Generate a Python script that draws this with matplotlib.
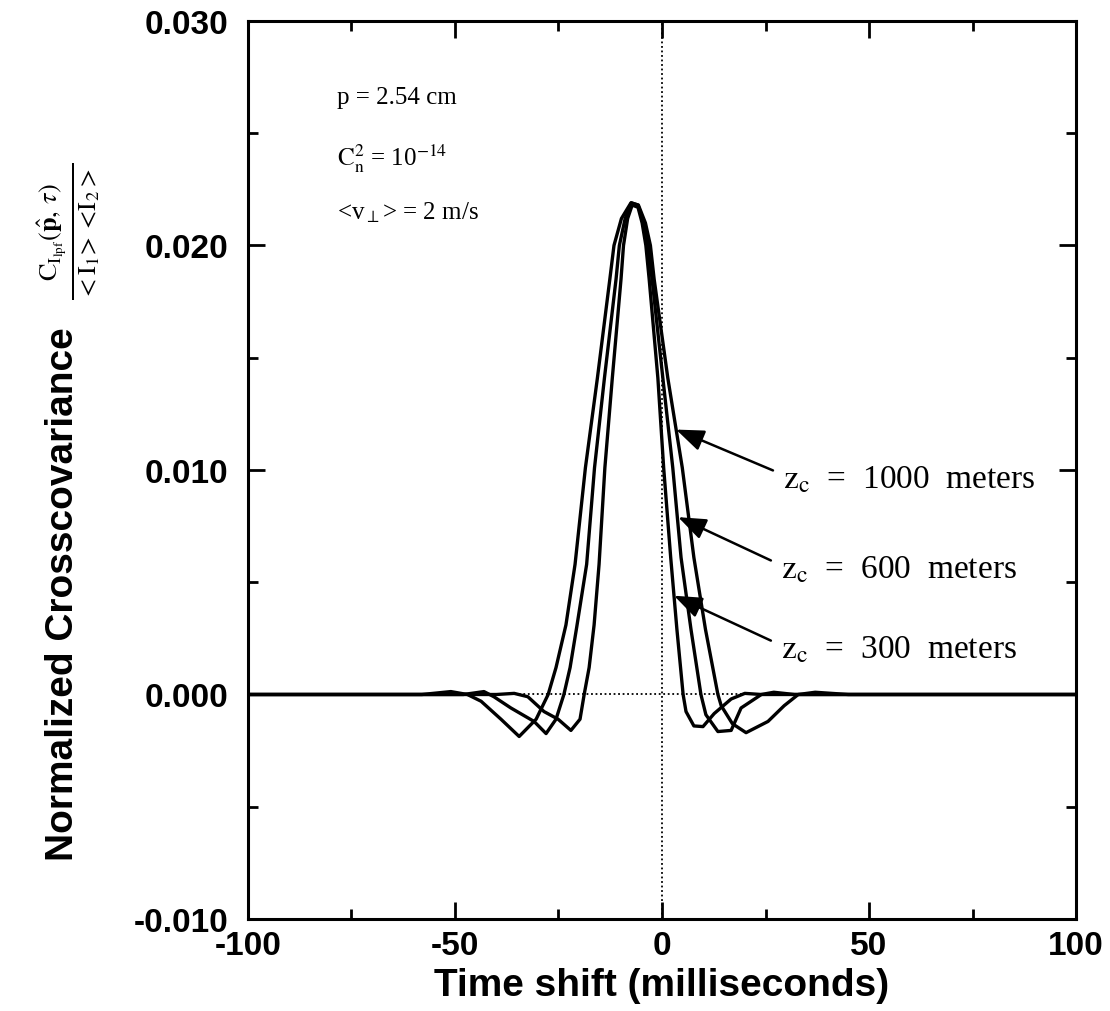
import matplotlib
matplotlib.use("Agg")
import matplotlib.pyplot as plt
from matplotlib.ticker import MultipleLocator

# time shift (ms) and normalized crosscovariance
t_300 = [-100, -60, -40, -35.7, -32.4, -28.5, -25.1, -22.0, -19.8, -18.8,
         -17.6, -16.4, -15.2, -13.8, -12.0, -9.9, -9.3, -8.3, -7.2, -5.8,
         -4.8, -3.9, -3.1, -1.0, 0.4, 2.1, 3.6, 5.1, 5.8, 7.7, 9.9, 12.6,
         16.7, 20.0, 24.0, 60, 100]
v_300 = [0, 0, 0, 0.00005, -0.0001, -0.00076, -0.0011, -0.0016, -0.0011, 0,
         0.0012, 0.0031, 0.0058, 0.0101, 0.0141, 0.0185, 0.0200, 0.0212,
         0.0218, 0.0217, 0.0210, 0.0200, 0.0185, 0.0141, 0.0101, 0.0061,
         0.0029, 0, -0.00076, -0.0014, -0.00143, -0.00085, -0.0002, 0.00005,
         0, 0, 0]

t_600 = [-100, -55, -48, -43.0, -40.6, -36.5, -30.9, -28.0, -25.6, -23.7,
         -22.2, -20.6, -18.2, -16.3, -13.9, -11.1, -10.3, -8.9, -7.4, -5.8,
         -4.3, -3.4, -2.4, 0.2, 2.6, 4.6, 7.0, 9.4, 10.6, 13.5, 16.7, 19.1,
         24.0, 27.0, 32.0, 60, 100]
v_600 = [0, 0, 0, 0.00013, -0.0001, -0.0006, -0.0012, -0.00174, -0.0011, 0,
         0.0012, 0.0030, 0.0058, 0.0101, 0.0141, 0.0185, 0.0200, 0.0212,
         0.0219, 0.0218, 0.0210, 0.0200, 0.0185, 0.0141, 0.0101, 0.0061,
         0.0029, 0, -0.0009, -0.00165, -0.0016, -0.0006, 0, 0.0001, 0, 0, 0]

t_1000 = [-100, -58, -51.0, -47.0, -43.7, -38.9, -34.5, -30.4, -27.5, -25.6,
          -23.2, -21.0, -18.5, -15.6, -12.6, -11.6, -9.8, -7.5, -5.7, -4.0,
          -2.8, -1.9, 1.4, 4.9, 7.7, 10.5, 13.5, 14.3, 17.0, 20.3, 25.6, 29.5,
          32.9, 37.0, 45, 100]
v_1000 = [0, 0, 0.00013, 0, -0.0003, -0.0011, -0.00187, -0.0011, 0, 0.0012,
          0.0031, 0.0058, 0.0101, 0.0141, 0.0185, 0.0200, 0.0212, 0.0219,
          0.0218, 0.0210, 0.0200, 0.0185, 0.0141, 0.0101, 0.0061, 0.0029, 0,
          -0.0005, -0.0013, -0.0017, -0.0012, -0.0005, 0, 0.0001, 0, 0]

labels = ["1000", "600", "300"]
arrow_tip = [(3.4, 0.0118), (3.9, 0.0079), (2.9, 0.0044)]
arrow_tail = [(26.8, 0.00998), (26.3, 0.00597), (26.3, 0.0024)]

plt.rcParams["mathtext.fontset"] = "stix"
sans = "Liberation Sans"
serif = "Liberation Serif"

fig = plt.figure(figsize=(11.1, 10.12), dpi=100)
ax = fig.add_axes([0.2234, 0.0909, 0.746, 0.8874])

for t, v in [(t_300, v_300), (t_600, v_600), (t_1000, v_1000)]:
    ax.plot(t, v, color="black", lw=2.4)

ax.axhline(0, color="black", lw=1.3, ls=(0, (1, 1.5)), zorder=0)
ax.axvline(0, color="black", lw=1.3, ls=(0, (1, 1.5)), zorder=0)

ax.set_xlim(-100, 100)
ax.set_ylim(-0.010, 0.030)
ax.xaxis.set_minor_locator(MultipleLocator(25))
ax.yaxis.set_minor_locator(MultipleLocator(0.005))
ax.set_yticks([-0.010, 0.0, 0.010, 0.020, 0.030])
ax.set_yticklabels(["-0.010", "0.000", "0.010", "0.020", "0.030"])
ax.set_xticks([-100, -50, 0, 50, 100])
ax.set_xticklabels(["-100", "-50", "0", "50", "100"])
ax.tick_params(which="both", direction="in", top=True, right=True, width=2)
ax.tick_params(which="major", length=12)
ax.tick_params(which="minor", length=7)
for lab in ax.get_xticklabels() + ax.get_yticklabels():
    lab.set_fontfamily(sans)
    lab.set_fontweight("bold")
    lab.set_fontsize(24)
ax.tick_params(axis="x", pad=8)
ax.tick_params(axis="y", pad=14)
for sp in ax.spines.values():
    sp.set_linewidth(2.2)

ax.set_xlabel("Time shift (milliseconds)", fontfamily=sans, fontweight="bold",
              fontsize=28, labelpad=4)
fig.text(0.057, 0.413, "Normalized Crosscovariance", rotation=90, ha="center",
         va="center", fontfamily=sans, fontweight="bold", fontsize=28)
fig.text(0.062, 0.771,
         r"$\frac{\mathrm{C}_{\mathrm{I}_{\mathrm{lpf}}}(\hat{\mathbf{p}},\,\tau)}"
         r"{<\mathrm{I}_1\!><\!\mathrm{I}_2>}$",
         rotation=90, ha="center", va="center", fontsize=27)

ax.text(-78.5, 0.0266, "p = 2.54 cm", fontfamily=serif, fontsize=18, va="center")
ax.text(-78.5, 0.0239, r"$\mathrm{C_n^2}$ = 10$^{-14}$", fontfamily=serif,
        fontsize=18, va="center")
ax.text(-78.5, 0.0215, r"<v$_\perp$> = 2 m/s", fontfamily=serif, fontsize=18,
        va="center")

for lab, tip, tail in zip(labels, arrow_tip, arrow_tail):
    ax.annotate("", xy=tip, xytext=tail,
                arrowprops=dict(arrowstyle="-|>,head_length=1.7,head_width=0.65",
                                color="black", lw=1.8, shrinkA=0, shrinkB=0))
    ax.text(tail[0] + 2.5, tail[1] - 0.0004,
            r"$\mathrm{z_c}$  =  " + lab + "  meters", fontfamily=serif,
            fontsize=24, va="center", ha="left")

fig.savefig("out.png", dpi=100)
